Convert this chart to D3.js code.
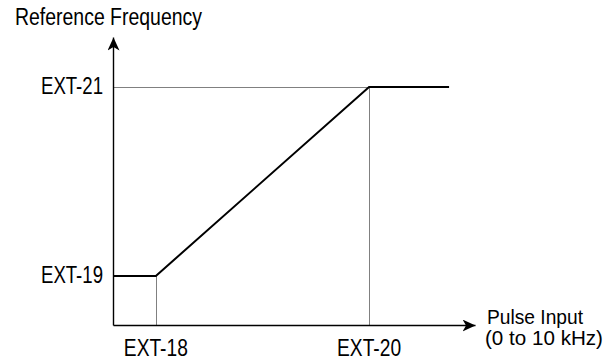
<!DOCTYPE html>
<html><head><meta charset="utf-8">
<script src="https://cdn.jsdelivr.net/npm/d3@7"></script>
<style>body{margin:0;background:#fff}svg{display:block}text{font-family:"Liberation Sans",Arial,sans-serif;fill:#000}</style>
</head><body><svg id="c" width="609" height="362"></svg>
<script>
// Data (arbitrary units: x = pulse input in kHz, y = % of max reference frequency)
const xTickValues = [1.17, 7.06];
const xTickLabels = ["EXT-18", "EXT-20"];
const yTickValues = [17.2, 82.8];
const yTickLabels = ["EXT-19", "EXT-21"];
const curveX = [0, 1.17, 7.06, 9.27];
const curveY = [17.2, 17.2, 82.8, 82.8];
const xTitle = ["Pulse Input", "(0 to 10 kHz)"];
const yTitle = "Reference Frequency";

const svg = d3.select("#c");
const x = d3.scaleLinear().domain([0, 10]).range([113.5, 475.5]);
const y = d3.scaleLinear().domain([0, 100]).range([325.5, 37.5]);

svg.append("defs").append("marker").attr("id","arr").attr("viewBox","0 0 13 12")
  .attr("refX",13).attr("refY",6).attr("markerWidth",13).attr("markerHeight",12)
  .attr("markerUnits","userSpaceOnUse").attr("orient","auto")
  .append("path").attr("d","M0,0 L13,6 L0,12 L3.5,6 Z").attr("fill","#000");

// dotted guides
xTickValues.forEach((v,i)=>{
  const px = Math.round(x(v)) + 0.5;
  svg.append("line").attr("x1",px).attr("x2",px).attr("y1",y(0)).attr("y2",y(curveY[i+1]))
    .attr("stroke","#000").attr("stroke-width",1).attr("stroke-dasharray","1,1");
});
const gy = Math.round(y(yTickValues[1])) + 0.5;
svg.append("line").attr("x1",x(0)).attr("x2",x(xTickValues[1])).attr("y1",gy).attr("y2",gy)
  .attr("stroke","#000").attr("stroke-width",1).attr("stroke-dasharray","1,1");

// axes
svg.append("line").attr("x1",x(0)).attr("x2",x(0)).attr("y1",y(0)).attr("y2",y(100))
  .attr("stroke","#000").attr("stroke-width",1.4).attr("marker-end","url(#arr)");
svg.append("line").attr("x1",x(0)).attr("x2",x(10)).attr("y1",y(0)).attr("y2",y(0))
  .attr("stroke","#000").attr("stroke-width",1.4).attr("marker-end","url(#arr)");

// curve
svg.append("path").datum(d3.zip(curveX, curveY))
  .attr("d", d3.line().x(d=>x(d[0])).y(d=>y(d[1])))
  .attr("fill","none").attr("stroke","#000").attr("stroke-width",2);

function txt(xp, yp, s, anchor, len, fs){
  return svg.append("text").attr("x",xp).attr("y",yp).attr("text-anchor",anchor)
    .attr("font-size",fs||23).attr("textLength",len).attr("lengthAdjust","spacingAndGlyphs").text(s);
}
// tick labels
xTickValues.forEach((v,i)=>{ txt(x(v), 355.5, xTickLabels[i], "middle", 64); });
yTickValues.forEach((v,i)=>{ txt(103, y(v)+7, yTickLabels[i], "end", 62); });

txt(15, 25, yTitle, "start", 187);

// x-axis title (two lines in one text element)
const xt = svg.append("text").attr("font-size",21);
xt.append("tspan").attr("x",487).attr("y",324).attr("textLength",96)
  .attr("lengthAdjust","spacingAndGlyphs").text(xTitle[0]);
xt.append("tspan").attr("x",485).attr("y",345).attr("textLength",118)
  .attr("lengthAdjust","spacingAndGlyphs").text(xTitle[1]);
</script></body></html>
